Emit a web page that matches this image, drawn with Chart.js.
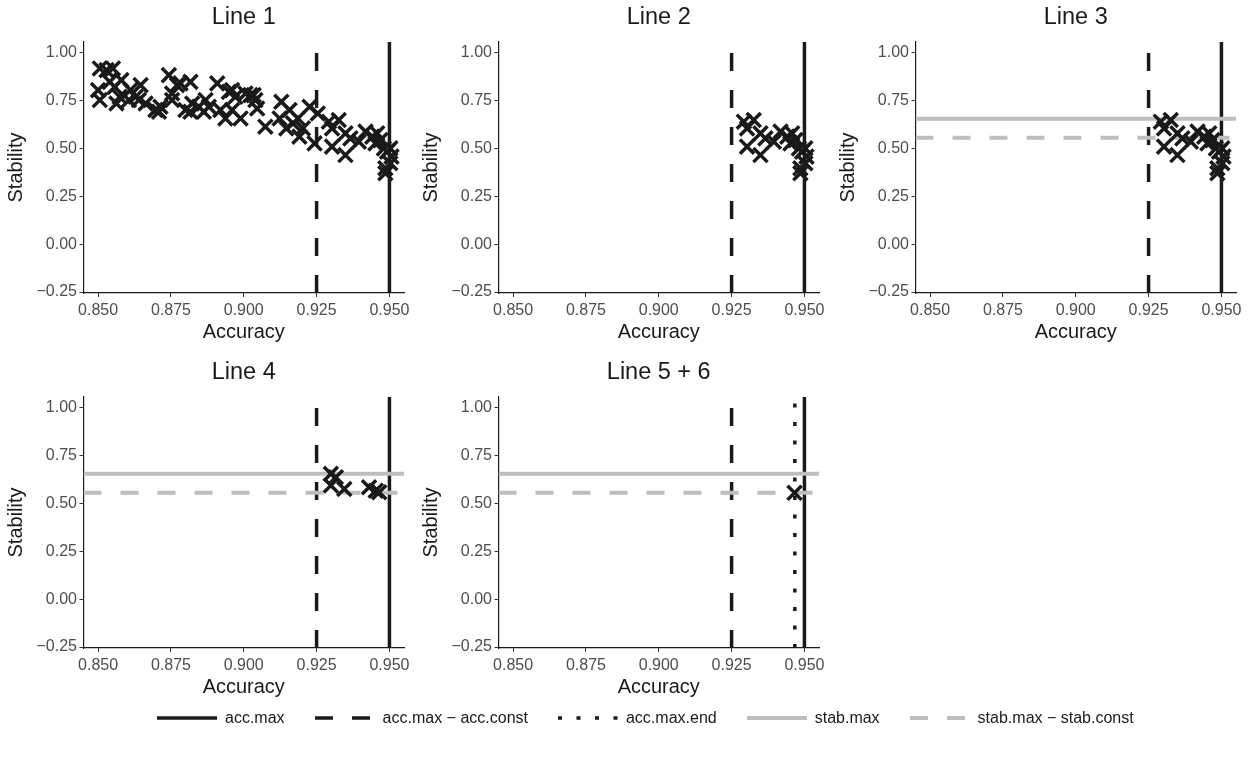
<!DOCTYPE html>
<html>
<head>
<meta charset="utf-8">
<script src="https://cdn.jsdelivr.net/npm/chart.js@4/dist/chart.umd.min.js"></script>
<style>
  body { margin: 0; background: #fff; width: 1250px; height: 758px; position: relative; overflow: hidden;
         font-family: "Liberation Sans", Arial, sans-serif; }
  .panel { position: absolute; width: 440px; height: 355px; }
  #legend { position: absolute; left: 157px; top: 706px; height: 24px; display: flex;
            align-items: center; font-size: 16px; color: #1a1a1a; white-space: nowrap; }
  .item { display: flex; align-items: center; margin-right: 30px; }
  .item svg { margin-right: 8px; }
</style>
</head>
<body>
<div class="panel" style="left:0;top:0"><canvas id="p1" width="440" height="355"></canvas></div>
<div class="panel" style="left:415px;top:0"><canvas id="p2" width="440" height="355"></canvas></div>
<div class="panel" style="left:832px;top:0"><canvas id="p3" width="440" height="355"></canvas></div>
<div class="panel" style="left:0;top:355px"><canvas id="p4" width="440" height="355"></canvas></div>
<div class="panel" style="left:415px;top:355px"><canvas id="p5" width="440" height="355"></canvas></div>
<div id="legend"></div>
<script>
// panel titles
var panelTitles = ["Line 1", "Line 2", "Line 3", "Line 4", "Line 5 + 6"];

// all candidate points (Line 1)
var acc1 = [0.8500, 0.8506, 0.8506, 0.8529, 0.8540, 0.8551, 0.8563, 0.8557, 0.8580, 0.8574,
            0.8611, 0.8606, 0.8629, 0.8646, 0.8640, 0.8663, 0.8697, 0.8714, 0.8709, 0.8743,
            0.8754, 0.8754, 0.8771, 0.8783, 0.8817, 0.8800, 0.8817, 0.8823, 0.8846, 0.8869,
            0.8863, 0.8880, 0.8909, 0.8920, 0.8937, 0.8949, 0.8960, 0.8960, 0.8971, 0.8989,
            0.9006, 0.9023, 0.9034, 0.9040, 0.9046, 0.9074, 0.9129, 0.9123, 0.9146, 0.9157,
            0.9169, 0.9186, 0.9191, 0.9203, 0.9226, 0.9243, 0.9254,
            0.9292, 0.9303, 0.9326, 0.9303, 0.9349, 0.9349, 0.9366, 0.9395, 0.9418, 0.9441,
            0.9458, 0.9452, 0.9469, 0.9481, 0.9492, 0.9503, 0.9507, 0.9503, 0.9486, 0.9486];
var stab1 = [0.804, 0.917, 0.752, 0.908, 0.847, 0.917, 0.734, 0.821, 0.856, 0.769,
             0.804, 0.752, 0.769, 0.830, 0.752, 0.734, 0.700, 0.717, 0.691, 0.882,
             0.786, 0.752, 0.830, 0.839, 0.847, 0.700, 0.691, 0.734, 0.717, 0.752,
             0.691, 0.717, 0.839, 0.700, 0.656, 0.795, 0.804, 0.700, 0.769, 0.656,
             0.786, 0.778, 0.778, 0.752, 0.708, 0.613, 0.743, 0.656, 0.604, 0.700,
             0.630, 0.656, 0.561, 0.604, 0.717, 0.526, 0.682,
             0.639, 0.604, 0.648, 0.509, 0.578, 0.465, 0.552, 0.535, 0.587, 0.561,
             0.578, 0.526, 0.543, 0.500, 0.483, 0.500, 0.457, 0.422, 0.396, 0.370];

// Line 2 / Line 3 keep the points right of this accuracy
var line2Cut = 0.927;

// Line 4 points
var acc4 = [0.9299, 0.9316, 0.9299, 0.9345, 0.9430, 0.9453, 0.9465];
var stab4 = [0.654, 0.636, 0.593, 0.575, 0.584, 0.566, 0.558];

// Line 5 + 6 point
var acc5 = [0.9466];
var stab5 = [0.555];

// reference lines
var accMax = 0.95;
var accConst = 0.025;
var accMaxEnd = 0.9467;
var stabMax = 0.655;
var stabConst = 0.1;

// axes
var xTicks = [0.850, 0.875, 0.900, 0.925, 0.950];
var yTicks = [-0.25, 0.00, 0.25, 0.50, 0.75, 1.00];
var xMin = 0.845, xMax = 0.955;
var yMin = -0.255, yMax = 1.055;

var legendLabels = ["acc.max", "acc.max \u2212 acc.const", "acc.max.end", "stab.max", "stab.max \u2212 stab.const"];

var FONT = "'Liberation Sans', Arial, sans-serif";
var DARK = "#1a1a1a";
var GREY = "#bebebe";
var lineStyles = [
  { color: DARK, dash: [], width: 3.5 },
  { color: DARK, dash: [18, 19], width: 3.5 },
  { color: DARK, dash: [4, 14.5], width: 3.5 },
  { color: GREY, dash: [], width: 4 },
  { color: GREY, dash: [18, 19], width: 4 }
];

function toPts(xs, ys) {
  return xs.map(function (x, i) { return { x: x, y: ys[i] }; });
}

function vline(x, st) {
  return { type: "line", data: [{ x: x, y: yMin }, { x: x, y: yMax }], showLine: true,
           borderColor: st.color, borderWidth: st.width, borderDash: st.dash,
           pointRadius: 0, borderCapStyle: "butt", fill: false };
}
function hline(y, st) {
  return { type: "line", data: [{ x: xMin, y: y }, { x: xMax, y: y }], showLine: true,
           borderColor: st.color, borderWidth: st.width, borderDash: st.dash,
           pointRadius: 0, borderCapStyle: "butt", fill: false };
}

function makePanel(id, title, pts, opts) {
  var datasets = [{
    data: pts, pointStyle: "crossRot", pointRadius: 10, pointHoverRadius: 10,
    pointBorderWidth: 3.5, borderColor: DARK, backgroundColor: DARK
  }];
  if (opts.stab) {
    datasets.push(hline(stabMax, lineStyles[3]));
    datasets.push(hline(stabMax - stabConst, lineStyles[4]));
  }
  if (opts.end) datasets.push(vline(accMaxEnd, lineStyles[2]));
  datasets.push(vline(accMax - accConst, lineStyles[1]));
  datasets.push(vline(accMax, lineStyles[0]));

  new Chart(document.getElementById(id), {
    type: "scatter",
    data: { datasets: datasets },
    options: {
      responsive: false,
      animation: false,
      devicePixelRatio: 1,
      // canvas is 440 wide, plot ends at 404
      layout: { padding: { top: 0, right: 36, bottom: 0, left: 0 } },
      plugins: {
        legend: { display: false },
        tooltip: { enabled: false },
        title: {
          display: true, text: title, fullSize: false, color: DARK,
          font: { family: FONT, size: 23.5, weight: "normal" },
          padding: { top: 3.9, bottom: 9.9 }
        }
      },
      scales: {
        x: {
          type: "linear", min: xMin, max: xMax,
          afterBuildTicks: function (s) { s.ticks = xTicks.map(function (v) { return { value: v }; }); },
          afterFit: function (s) { s.height = 62; },
          ticks: { callback: function (v) { return v.toFixed(3); }, color: "#4d4d4d",
                   font: { family: FONT, size: 16 }, padding: 4, maxRotation: 0, autoSkip: false },
          grid: { drawOnChartArea: false, drawTicks: true, tickLength: 4, tickColor: "#333", tickWidth: 1 },
          border: { display: true, color: DARK, width: 1.2 },
          title: { display: true, text: "Accuracy", color: DARK, font: { family: FONT, size: 20 },
                   padding: { top: 1, bottom: 11 } }
        },
        y: {
          type: "linear", min: yMin, max: yMax,
          afterBuildTicks: function (s) { s.ticks = yTicks.map(function (v) { return { value: v }; }); },
          afterFit: function (s) { s.width = 83.5; },
          ticks: { callback: function (v) { return v.toFixed(2).replace("-", "\u2212"); }, color: "#4d4d4d",
                   font: { family: FONT, size: 16 }, padding: 2.5, autoSkip: false },
          grid: { drawOnChartArea: false, drawTicks: true, tickLength: 4, tickColor: "#333", tickWidth: 1 },
          border: { display: true, color: DARK, width: 1.2 },
          title: { display: true, text: "Stability", color: DARK, font: { family: FONT, size: 20 },
                   padding: { top: 4.7, bottom: 1 } }
        }
      }
    }
  });
}

var pts1 = toPts(acc1, stab1);
var pts2 = pts1.filter(function (p) { return p.x > line2Cut; });

makePanel("p1", panelTitles[0], pts1, {});
makePanel("p2", panelTitles[1], pts2, {});
makePanel("p3", panelTitles[2], pts2, { stab: true });
makePanel("p4", panelTitles[3], toPts(acc4, stab4), { stab: true });
makePanel("p5", panelTitles[4], toPts(acc5, stab5), { stab: true, end: true });

// legend
var leg = document.getElementById("legend");
legendLabels.forEach(function (lab, i) {
  var st = lineStyles[i];
  var item = document.createElement("div");
  item.className = "item";
  var dash = st.dash.length ? st.dash.join(",") : "none";
  item.innerHTML = '<svg width="60" height="10"><line x1="0" y1="5" x2="60" y2="5" stroke="' + st.color +
    '" stroke-width="' + st.width + '" stroke-dasharray="' + dash + '"/></svg><span>' + lab + '</span>';
  leg.appendChild(item);
});
</script>
</body>
</html>
